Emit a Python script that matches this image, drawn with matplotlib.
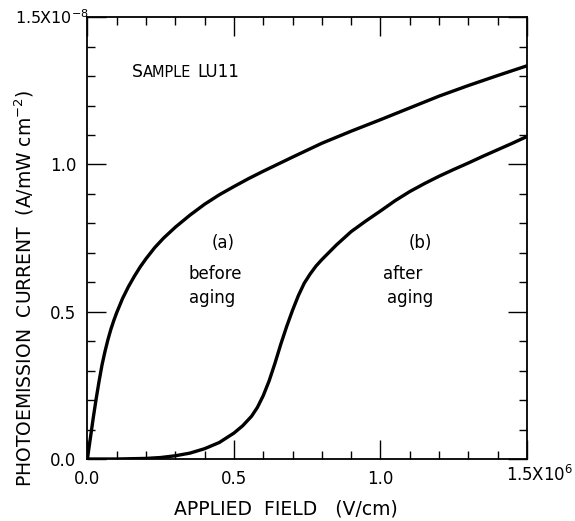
import matplotlib
matplotlib.use("Agg")
import matplotlib.pyplot as plt
from matplotlib.ticker import MultipleLocator, FixedLocator

# Applied field (units of 1e6 V/cm) and photoemission current (units of 1e-8 A/mW cm^-2)
field_a = [0.0, 0.01, 0.02, 0.03, 0.04, 0.05, 0.06, 0.07, 0.08, 0.09, 0.10, 0.12,
           0.14, 0.16, 0.18, 0.20, 0.23, 0.26, 0.30, 0.35, 0.40, 0.45, 0.50, 0.55,
           0.60, 0.70, 0.80, 0.90, 1.00, 1.10, 1.20, 1.30, 1.40, 1.50]
current_a = [0.0, 0.07, 0.14, 0.205, 0.265, 0.32, 0.365, 0.405, 0.44, 0.47, 0.497,
             0.545, 0.585, 0.62, 0.652, 0.68, 0.718, 0.75, 0.787, 0.828, 0.865, 0.897,
             0.925, 0.952, 0.977, 1.025, 1.072, 1.113, 1.152, 1.192, 1.232, 1.268,
             1.302, 1.335]

field_b = [0.0, 0.10, 0.20, 0.25, 0.30, 0.35, 0.40, 0.45, 0.50, 0.53, 0.56, 0.58,
           0.60, 0.62, 0.64, 0.66, 0.68, 0.70, 0.72, 0.74, 0.76, 0.78, 0.80, 0.85,
           0.90, 0.95, 1.00, 1.05, 1.10, 1.15, 1.20, 1.25, 1.30, 1.35, 1.40, 1.45, 1.50]
current_b = [0.0, 0.0, 0.002, 0.005, 0.011, 0.02, 0.035, 0.056, 0.088, 0.113, 0.145,
             0.175, 0.215, 0.265, 0.325, 0.39, 0.45, 0.505, 0.555, 0.597, 0.628, 0.655,
             0.677, 0.727, 0.772, 0.808, 0.842, 0.877, 0.908, 0.935, 0.96, 0.983,
             1.005, 1.028, 1.05, 1.072, 1.095]

x_ticks = [0.0, 0.5, 1.0, 1.5]
x_tick_labels = ["0.0", "0.5", "1.0", ""]
y_ticks = [0.0, 0.5, 1.0, 1.5]
y_tick_labels = ["0.0", "0.5", "1.0", ""]

plt.rcParams["font.family"] = ["DejaVu Sans"]
plt.rcParams["xtick.direction"] = "in"
plt.rcParams["ytick.direction"] = "in"

fig = plt.figure(figsize=(5.75, 5.21), dpi=100)
ax = fig.add_axes([0.152, 0.119, 0.7645, 0.848])

ax.plot(field_a, current_a, color="black", lw=2.4, solid_capstyle="round",
        solid_joinstyle="round")
ax.plot(field_b, current_b, color="black", lw=2.4, solid_capstyle="round",
        solid_joinstyle="round")

ax.set_xlim(0, 1.5)
ax.set_ylim(0, 1.5)

for side in ax.spines.values():
    side.set_linewidth(1.3)

ax.xaxis.set_major_locator(FixedLocator(x_ticks))
ax.yaxis.set_major_locator(FixedLocator(y_ticks))
ax.xaxis.set_minor_locator(MultipleLocator(0.1))
ax.yaxis.set_minor_locator(MultipleLocator(0.1))
ax.set_xticklabels(x_tick_labels)
ax.set_yticklabels(y_tick_labels)
ax.tick_params(axis="both", which="both", direction="in", top=True, right=True,
               width=1.0, labelsize=12, color="black")
ax.tick_params(axis="both", which="major", length=14, pad=8)
ax.tick_params(axis="both", which="minor", length=6)

# Axis multipliers written at the axis ends
fig.text(15 / 575, 1 - 18 / 521, r"1.5X10$^{-8}$", fontsize=11.5, ha="left", va="center")
fig.text(573 / 575, 1 - 475 / 521, r"1.5X10$^{6}$", fontsize=12, ha="right", va="center")

fig.text(286 / 575, 1 - 509 / 521, "APPLIED  FIELD   (V/cm)", fontsize=13.5,
         ha="center", va="center")
fig.text(24 / 575, 1 - 288 / 521, r"PHOTOEMISSION  CURRENT  (A/mW cm$^{-2}$)",
         fontsize=13.5, ha="center", va="center", rotation=90)

# Sample name in small capitals
ax.text(0.153, 1.296, "S", fontsize=12.5, ha="left", va="baseline")
ax.text(0.191, 1.296, "AMPLE", fontsize=10.5, ha="left", va="baseline")
ax.text(0.375, 1.296, "LU11", fontsize=12, ha="left", va="baseline")

ax.text(0.462, 0.733, "(a)", fontsize=12, ha="center", va="center")
ax.text(0.435, 0.627, "before", fontsize=12, ha="center", va="center")
ax.text(0.425, 0.548, "aging", fontsize=12, ha="center", va="center")

ax.text(1.135, 0.733, "(b)", fontsize=12, ha="center", va="center")
ax.text(1.077, 0.627, "after", fontsize=12, ha="center", va="center")
ax.text(1.101, 0.548, "aging", fontsize=12, ha="center", va="center")

fig.savefig("out.png", dpi=100)
